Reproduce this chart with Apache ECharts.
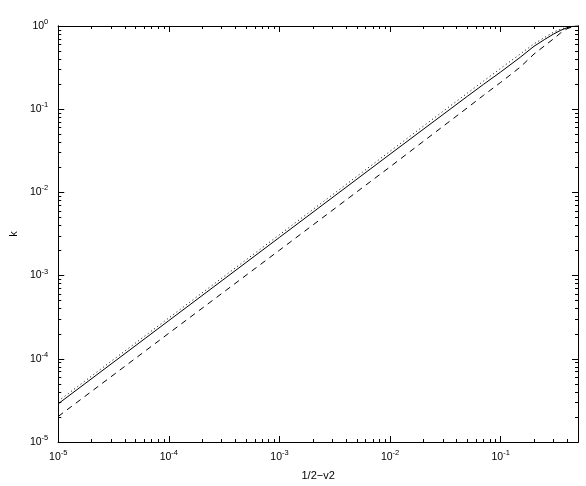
<!DOCTYPE html>
<html>
<head>
<meta charset="utf-8">
<script src="https://cdn.jsdelivr.net/npm/echarts@6/dist/echarts.min.js"></script>
<style>
  html, body { margin: 0; padding: 0; background: #fff; }
  #chart { width: 586px; height: 486px; }
</style>
</head>
<body>
<div id="chart"></div>
<script>
// values (log-log)
const xValues = [1e-5, 1e-4, 1e-3, 1e-2, 0.03, 0.05, 0.07, 0.1, 0.15, 0.2, 0.25, 0.3, 0.35, 0.4, 0.45, 0.5];
const kSolid  = [2.88e-5, 2.88e-4, 2.88e-3, 0.0288, 0.086, 0.143, 0.199, 0.28, 0.42, 0.57, 0.69, 0.80, 0.89, 0.955, 0.99, 1.0];
const kDotted = [3.1e-5, 3.1e-4, 3.1e-3, 0.0312, 0.094, 0.156, 0.218, 0.31, 0.46, 0.61, 0.73, 0.84, 0.92, 0.97, 0.995, 1.0];
const kDashed = [2.03e-5, 2.03e-4, 2.02e-3, 0.0203, 0.062, 0.104, 0.147, 0.21, 0.32, 0.46, 0.58, 0.70, 0.83, 0.93, 0.98, 1.0];

const xMajor = [1e-5, 1e-4, 1e-3, 1e-2, 1e-1];
const yMajor = [1e-5, 1e-4, 1e-3, 1e-2, 1e-1, 1];
const xMin = 1e-5, xMax = 0.5;
const yMin = 1e-5, yMax = 1;

// minor ticks at 2..9 x 10^n inside the axis range
function minorTicks(lo, hi) {
  const out = [];
  for (let e = Math.floor(Math.log10(lo)); e <= Math.ceil(Math.log10(hi)); e++) {
    for (let d = 2; d <= 9; d++) {
      const v = d * Math.pow(10, e);
      if (v > lo && v < hi) out.push(v);
    }
  }
  return out;
}
const xMinor = minorTicks(xMin, xMax);
const yMinor = minorTicks(yMin, yMax);

const FONT = "'Liberation Sans', Arial, sans-serif";
const expLabel = v => '{b|10}{s|' + Math.round(Math.log10(v)) + '}';
const rich = {
  b: { fontSize: 10.5, fontFamily: FONT, color: '#000' },
  s: { fontSize: 7.5, fontFamily: FONT, color: '#000', padding: [0, 0, 8, 0] }
};

function makeAxis(pos, ticks, len, withLabels, min, max, margin) {
  return {
    type: 'log',
    logBase: 10,
    position: pos,
    min: min,
    max: max,
    axisLine: { show: true, lineStyle: { color: '#000', width: 1 } },
    axisTick: { show: true, inside: true, length: len, customValues: ticks, lineStyle: { color: '#000', width: 1 } },
    axisLabel: withLabels
      ? { show: true, customValues: withLabels, formatter: expLabel, rich: rich, margin: margin }
      : { show: false },
    splitLine: { show: false },
    minorTick: { show: false },
    silent: true
  };
}

const xAxes = [
  Object.assign(makeAxis('bottom', xMajor, 6, xMajor, xMin, xMax, 7), {
    name: '1/2\u2212v2', nameLocation: 'middle', nameGap: 28,
    nameTextStyle: { fontSize: 11, fontFamily: FONT, color: '#000' }
  }),
  makeAxis('bottom', xMinor, 3, null, xMin, xMax),
  makeAxis('top', xMajor, 6, null, xMin, xMax),
  makeAxis('top', xMinor, 3, null, xMin, xMax)
];
const yAxes = [
  Object.assign(makeAxis('left', yMajor, 6, yMajor, yMin, yMax, 10), {
    name: 'k', nameLocation: 'middle', nameGap: 35, nameRotate: 90,
    nameTextStyle: { fontSize: 11, fontFamily: FONT, color: '#000' }
  }),
  makeAxis('left', yMinor, 3, null, yMin, yMax),
  makeAxis('right', yMajor, 6, null, yMin, yMax),
  makeAxis('right', yMinor, 3, null, yMin, yMax)
];

const pairs = ys => xValues.map((x, i) => [x, ys[i]]);
const lineSeries = (name, ys, type) => ({
  name: name,
  type: 'line',
  xAxisIndex: 0,
  yAxisIndex: 0,
  symbol: 'none',
  smooth: false,
  lineStyle: { color: '#000', width: 1, type: type },
  data: pairs(ys)
});

const chart = echarts.init(document.getElementById('chart'), null, { renderer: 'canvas' });
chart.setOption({
  backgroundColor: '#fff',
  animation: false,
  grid: { left: 43, right: 8, top: 26, bottom: 36, containLabel: false },
  xAxis: xAxes,
  yAxis: yAxes,
  series: [
    lineSeries('dotted', kDotted, [1, 3]),
    lineSeries('solid', kSolid, 'solid'),
    lineSeries('dashed', kDashed, [6, 5])
  ]
});
</script>
</body>
</html>
